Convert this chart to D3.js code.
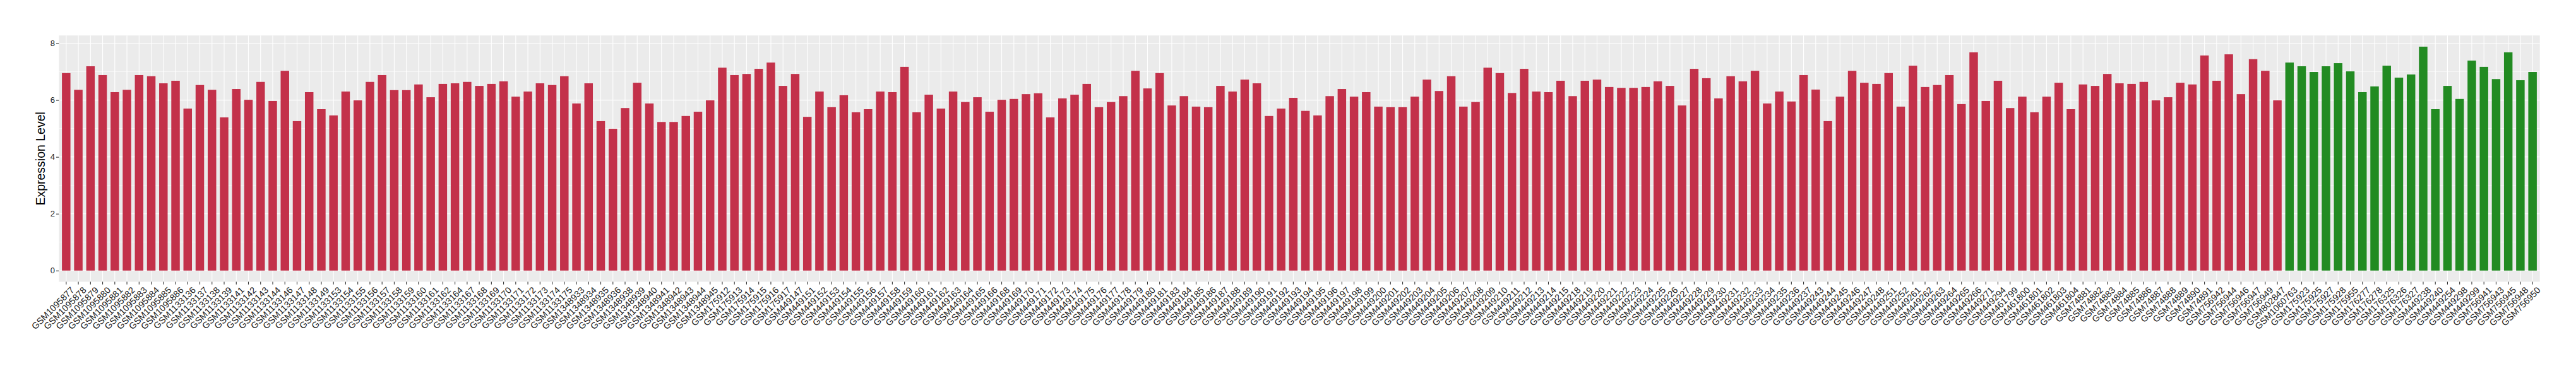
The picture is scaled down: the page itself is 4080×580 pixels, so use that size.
<!DOCTYPE html>
<html>
<head>
<meta charset="utf-8">
<script src="https://cdn.jsdelivr.net/npm/d3@7"></script>
<style>
  html, body { margin: 0; padding: 0; background: #ffffff; }
  svg { display: block; }
</style>
</head>
<body>
<svg id="chart" width="4080" height="580"></svg>
<script>
// ---------------- data ----------------
const redSamples = [
  "GSM1095877","GSM1095878","GSM1095879","GSM1095880","GSM1095881","GSM1095882","GSM1095883","GSM1095884","GSM1095885","GSM1095886",
  "GSM1133136","GSM1133137","GSM1133138","GSM1133139","GSM1133141","GSM1133142","GSM1133143","GSM1133144","GSM1133146","GSM1133147",
  "GSM1133148","GSM1133149","GSM1133153","GSM1133154","GSM1133155","GSM1133156","GSM1133157","GSM1133158","GSM1133159","GSM1133160",
  "GSM1133161","GSM1133162","GSM1133164","GSM1133167","GSM1133168","GSM1133169","GSM1133170","GSM1133171","GSM1133172","GSM1133173",
  "GSM1133174","GSM1133175","GSM1348933","GSM1348934","GSM1348935","GSM1348936","GSM1348938","GSM1348939","GSM1348940","GSM1348941",
  "GSM1348942","GSM1348943","GSM1348944","GSM1348945","GSM175912","GSM175913","GSM175914","GSM175915","GSM175916","GSM175917",
  "GSM449147","GSM449151","GSM449152","GSM449153","GSM449154","GSM449155","GSM449156","GSM449157","GSM449158","GSM449159",
  "GSM449160","GSM449161","GSM449162","GSM449163","GSM449164","GSM449165","GSM449166","GSM449168","GSM449169","GSM449170",
  "GSM449171","GSM449172","GSM449173","GSM449174","GSM449175","GSM449176","GSM449177","GSM449178","GSM449179","GSM449180",
  "GSM449181","GSM449183","GSM449184","GSM449185","GSM449186","GSM449187","GSM449188","GSM449189","GSM449190","GSM449191",
  "GSM449192","GSM449193","GSM449194","GSM449195","GSM449196","GSM449197","GSM449198","GSM449199","GSM449200","GSM449201",
  "GSM449202","GSM449203","GSM449204","GSM449205","GSM449206","GSM449207","GSM449208","GSM449209","GSM449210","GSM449211",
  "GSM449212","GSM449213","GSM449214","GSM449215","GSM449218","GSM449219","GSM449220","GSM449221","GSM449222","GSM449223",
  "GSM449224","GSM449225","GSM449226","GSM449227","GSM449228","GSM449229","GSM449230","GSM449231","GSM449232","GSM449233",
  "GSM449234","GSM449235","GSM449236","GSM449237","GSM449243","GSM449244","GSM449245","GSM449246","GSM449247","GSM449248",
  "GSM449251","GSM449252","GSM449261","GSM449262","GSM449263","GSM449264","GSM449265","GSM449266","GSM449271","GSM449294",
  "GSM461799","GSM461800","GSM461801","GSM461802","GSM461803","GSM461804","GSM74881","GSM74882","GSM74883","GSM74884",
  "GSM74885","GSM74886","GSM74887","GSM74888","GSM74889","GSM74890","GSM74891","GSM756942","GSM756944","GSM756946",
  "GSM756947","GSM756949","GSM802847"
];
const redValues = [
  6.95,6.36,7.19,6.88,6.28,6.36,6.88,6.84,6.59,6.68,
  5.70,6.53,6.36,5.39,6.39,6.01,6.64,5.97,7.03,5.26,
  6.28,5.68,5.46,6.30,5.99,6.64,6.88,6.35,6.35,6.55,
  6.10,6.57,6.59,6.64,6.50,6.57,6.66,6.12,6.30,6.59,
  6.53,6.84,5.88,6.59,5.26,4.99,5.72,6.61,5.88,5.23,
  5.23,5.44,5.59,5.99,7.14,6.88,6.92,7.10,7.32,6.50,
  6.92,5.41,6.30,5.75,6.17,5.57,5.68,6.30,6.28,7.17,
  5.57,6.19,5.70,6.30,5.93,6.10,5.59,6.01,6.04,6.21,
  6.24,5.39,6.06,6.19,6.57,5.75,5.93,6.14,7.03,6.41,
  6.95,5.81,6.14,5.77,5.75,6.50,6.30,6.72,6.59,5.44,
  5.70,6.08,5.62,5.46,6.14,6.39,6.12,6.28,5.77,5.75,
  5.75,6.12,6.72,6.32,6.84,5.77,5.93,7.14,6.95,6.25,
  7.10,6.30,6.28,6.68,6.14,6.68,6.72,6.46,6.43,6.43,
  6.46,6.66,6.50,5.81,7.10,6.77,6.06,6.84,6.66,7.03,
  5.88,6.30,5.95,6.88,6.37,5.26,6.12,7.03,6.61,6.57,
  6.95,5.77,7.21,6.46,6.53,6.88,5.86,7.68,5.97,6.68,
  5.72,6.12,5.57,6.12,6.61,5.68,6.55,6.50,6.92,6.59,
  6.57,6.64,5.99,6.10,6.61,6.55,7.57,6.68,7.61,6.21,
  7.44,7.03,5.99
];
const greenSamples = [
  "GSM1060763","GSM175923","GSM175925","GSM175927","GSM175928","GSM175955","GSM176277","GSM176278","GSM176325","GSM176326",
  "GSM176327","GSM449238","GSM449240","GSM449254","GSM449298","GSM449299","GSM756941","GSM756943","GSM756945","GSM756948",
  "GSM756950"
];
const greenValues = [
  7.32,7.19,6.99,7.19,7.30,7.01,6.28,6.48,7.21,6.79,
  6.90,7.88,5.68,6.50,6.04,7.39,7.17,6.74,7.68,6.70,
  6.99
];
const yTicks = [0, 2, 4, 6, 8];
const yMinorTicks = [1, 3, 5, 7];
const yTitle = "Expression Level";
const groupColors = { red: "#C3314A", green: "#228B22" };

// ---------------- layout ----------------
const W = 4080, H = 580;
const panel = { left: 93.3, right: 4022.7, top: 56.2, bottom: 446.5 };

const data = redSamples.map((s, i) => ({ sample: s, value: redValues[i], group: "red" }))
  .concat(greenSamples.map((s, i) => ({ sample: s, value: greenValues[i], group: "green" })));

const svg = d3.select("#chart");

const x = d3.scaleBand()
  .domain(data.map(d => d.sample))
  .range([panel.left, panel.right])
  .paddingInner(0.3)
  .paddingOuter(0.25);

const vmax = d3.max(data, d => d.value);
const y = d3.scaleLinear()
  .domain([-0.05 * vmax, 1.05 * vmax])
  .range([panel.bottom, panel.top]);

// panel background
svg.append("rect")
  .attr("x", panel.left).attr("y", panel.top)
  .attr("width", panel.right - panel.left)
  .attr("height", panel.bottom - panel.top)
  .attr("fill", "#EBEBEB");

const grid = svg.append("g");
grid.selectAll("line.minor").data(yMinorTicks).join("line")
  .attr("class", "minor")
  .attr("x1", panel.left).attr("x2", panel.right)
  .attr("y1", d => y(d)).attr("y2", d => y(d))
  .attr("stroke", "#ffffff").attr("stroke-width", 0.6);
grid.selectAll("line.majy").data(yTicks).join("line")
  .attr("class", "majy")
  .attr("x1", panel.left).attr("x2", panel.right)
  .attr("y1", d => y(d)).attr("y2", d => y(d))
  .attr("stroke", "#ffffff").attr("stroke-width", 1.1);
grid.selectAll("line.majx").data(data).join("line")
  .attr("class", "majx")
  .attr("x1", d => x(d.sample) + x.bandwidth() / 2)
  .attr("x2", d => x(d.sample) + x.bandwidth() / 2)
  .attr("y1", panel.top).attr("y2", panel.bottom)
  .attr("stroke", "#ffffff").attr("stroke-width", 1.1);

// bars
svg.append("g").selectAll("rect").data(data).join("rect")
  .attr("x", d => x(d.sample))
  .attr("width", x.bandwidth())
  .attr("y", d => y(d.value))
  .attr("height", d => y(0) - y(d.value))
  .attr("fill", d => groupColors[d.group]);

// axes
const fontFamily = "'Liberation Sans', Arial, Helvetica, sans-serif";

const yAxis = svg.append("g")
  .attr("transform", `translate(${panel.left},0)`)
  .call(d3.axisLeft(y).tickValues(yTicks).tickSize(4.3).tickPadding(2).tickFormat(d3.format("d")));
yAxis.select(".domain").remove();
yAxis.selectAll(".tick line").attr("stroke", "#333333").attr("stroke-width", 1.1);
yAxis.selectAll(".tick text")
  .attr("fill", "#1a1a1a")
  .style("font-family", fontFamily)
  .style("font-size", "13px");

const xAxis = svg.append("g")
  .attr("transform", `translate(0,${panel.bottom})`)
  .call(d3.axisBottom(x).tickSize(4.3));
xAxis.select(".domain").remove();
xAxis.selectAll(".tick line").attr("stroke", "#333333").attr("stroke-width", 1.1);
xAxis.selectAll(".tick text")
  .attr("x", 0).attr("y", 0).attr("dy", "0.71em")
  .attr("text-anchor", "end")
  .attr("transform", "translate(6.3,7) rotate(-45)")
  .attr("fill", "#1a1a1a")
  .style("font-family", fontFamily)
  .style("font-size", "14.3px");

// y title
svg.append("text")
  .attr("transform", `translate(71,${(panel.top + panel.bottom) / 2}) rotate(-90)`)
  .attr("text-anchor", "middle")
  .style("font-family", fontFamily)
  .style("font-size", "19.5px")
  .attr("fill", "#000000")
  .text(yTitle);
</script>
</body>
</html>
